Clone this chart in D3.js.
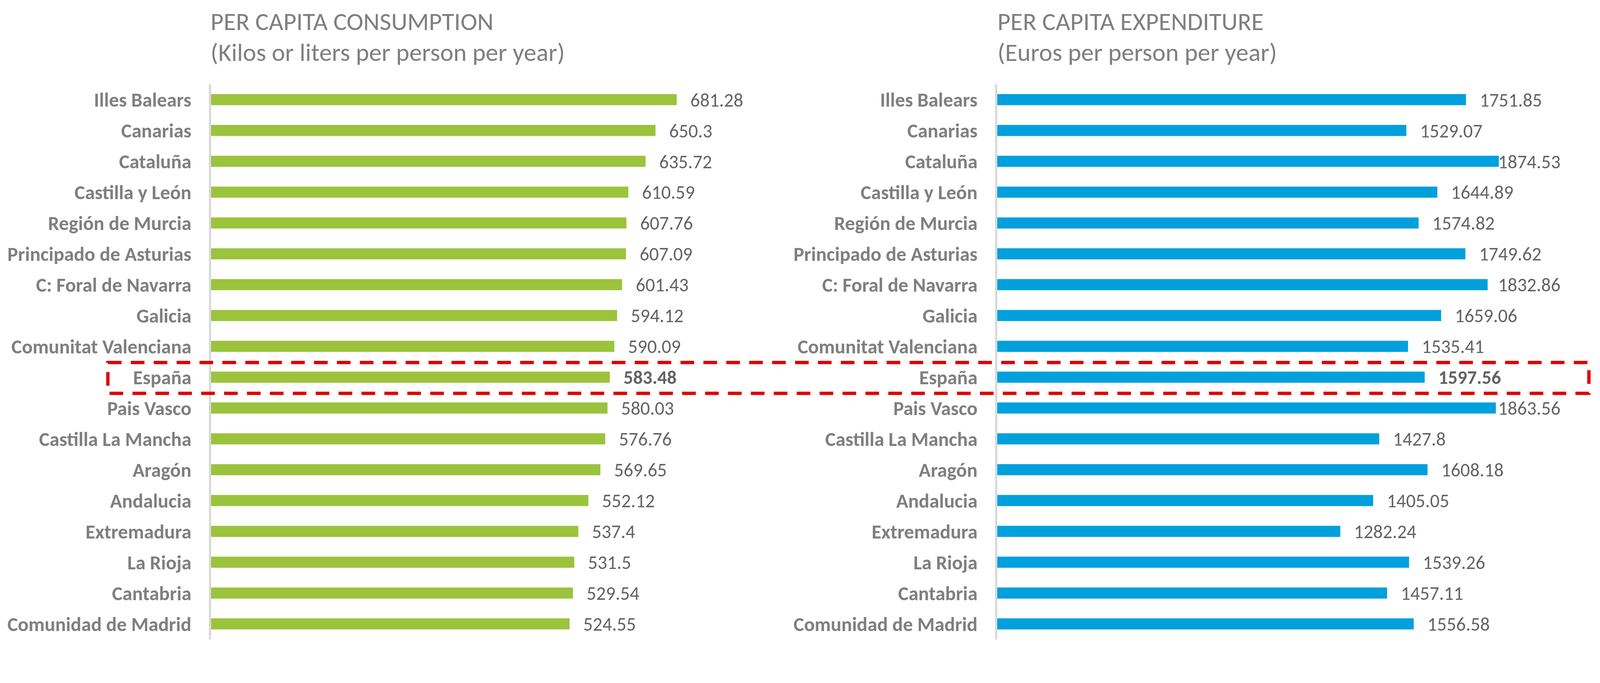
<!DOCTYPE html>
<html>
<head>
<meta charset="utf-8">
<script src="https://cdn.jsdelivr.net/npm/d3@7"></script>
<style>
  html, body { margin: 0; padding: 0; background: #ffffff; width: 100%; height: 100%; overflow: hidden; }
  svg { display: block; width: 100vw; height: 100vh; }
</style>
</head>
<body>
<svg id="chart" viewBox="0 0 4331 1749" preserveAspectRatio="xMidYMin meet"></svg>
<script>
// ---------- DATA ----------
const categories = [
  "Illes Balears", "Canarias", "Cataluña", "Castilla y León", "Región de Murcia",
  "Principado de Asturias", "C: Foral de Navarra", "Galicia", "Comunitat Valenciana",
  "España", "Pais Vasco", "Castilla La Mancha", "Aragón", "Andalucia", "Extremadura",
  "La Rioja", "Cantabria", "Comunidad de Madrid"
];
const consumption = [681.28, 650.3, 635.72, 610.59, 607.76, 607.09, 601.43, 594.12, 590.09,
  583.48, 580.03, 576.76, 569.65, 552.12, 537.4, 531.5, 529.54, 524.55];
const expenditure = [1751.85, 1529.07, 1874.53, 1644.89, 1574.82, 1749.62, 1832.86, 1659.06, 1535.41,
  1597.56, 1863.56, 1427.8, 1608.18, 1405.05, 1282.24, 1539.26, 1457.11, 1556.58];
const highlight = "España";
const titles = [
  ["PER CAPITA CONSUMPTION", "(Kilos or liters per person per year)"],
  ["PER CAPITA EXPENDITURE", "(Euros per person per year)"]
];

// ---------- STYLE / LAYOUT ----------
const FONT = "Calibri, Carlito, Lato, 'Open Sans', sans-serif";
const svg = d3.select("#chart");
svg.append("rect").attr("width", 4331).attr("height", 1749).attr("fill", "#ffffff");

function fitSize(text, weight, target) {
  const t = svg.append("text").attr("font-family", FONT).attr("font-weight", weight)
    .attr("font-size", 100).text(text);
  const w = t.node().getComputedTextLength();
  t.remove();
  return 100 * target / w;
}
const titleSize = (fitSize(titles[0][0], 400, 765) + fitSize(titles[0][1], 400, 960)) / 2;
const catSize = fitSize("Comunitat Valenciana", 700, 487);
const valSize = fitSize("1751.85", 400, 169);

const y = d3.scaleBand().domain(categories).range([228, 1731])
  .paddingInner(0.64).paddingOuter(0.32);

const panels = [
  { values: consumption, axisX: 568, x: d3.scaleLinear().domain([0, 700]).range([571, 571 + 700 * 1.8505]),
    color: "#9BC33C", titleX: 570, labelMax: 2100 },
  { values: expenditure, axisX: 2696, x: d3.scaleLinear().domain([0, 2000]).range([2699, 2699 + 2000 * 0.7245]),
    color: "#00A0DD", titleX: 2700, labelMax: 4224 }
];

panels.forEach((p, pi) => {
  const g = svg.append("g");
  // titles
  g.append("text").attr("x", p.titleX).attr("y", 81)
    .attr("font-family", FONT).attr("font-size", titleSize).attr("fill", "#7F7F7F")
    .text(titles[pi][0]);
  g.append("text").attr("x", p.titleX).attr("y", 165)
    .attr("font-family", FONT).attr("font-size", titleSize).attr("fill", "#7F7F7F")
    .text(titles[pi][1]);

  // bars
  g.selectAll("rect.bar").data(categories).enter().append("rect")
    .attr("class", "bar")
    .attr("x", p.x(0))
    .attr("y", d => y(d))
    .attr("width", (d, i) => p.x(p.values[i]) - p.x(0))
    .attr("height", y.bandwidth())
    .attr("fill", p.color);

  // category axis
  const ax = g.append("g").attr("transform", `translate(${p.axisX},0)`)
    .call(d3.axisLeft(y).tickSize(0).tickSizeOuter(0).tickPadding(50));
  ax.select(".domain").attr("stroke", "#D9D9D9").attr("stroke-width", 6);
  ax.selectAll(".tick text")
    .attr("font-family", FONT).attr("font-size", catSize).attr("font-weight", 700)
    .attr("fill", "#7F7F7F").attr("dy", "0.36em");

  // value labels
  g.selectAll("text.val").data(categories).enter().append("text")
    .attr("class", "val")
    .attr("font-family", FONT).attr("font-size", valSize)
    .attr("font-weight", d => d === highlight ? 700 : 400)
    .attr("fill", "#636363")
    .attr("y", d => y(d) + y.bandwidth() / 2)
    .attr("dy", "0.36em")
    .text((d, i) => String(p.values[i]))
    .each(function (d, i) {
      const w = this.getComputedTextLength();
      const x = Math.min(p.x(p.values[i]) + 37, p.labelMax - w);
      d3.select(this).attr("x", x);
    });
});

// highlight box around España
const step = y.step();
const cy = y(highlight) + y.bandwidth() / 2;
svg.append("rect")
  .attr("x", 292).attr("y", cy - step / 2 + 2)
  .attr("width", 4301 - 292).attr("height", step)
  .attr("fill", "none").attr("stroke", "#E00000").attr("stroke-width", 9)
  .attr("stroke-dasharray", "37,25");
</script>
</body>
</html>
